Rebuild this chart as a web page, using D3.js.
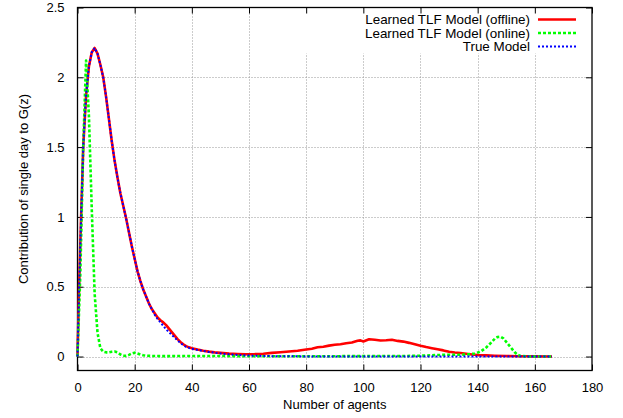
<!DOCTYPE html>
<html>
<head>
<meta charset="utf-8">
<script src="https://cdn.jsdelivr.net/npm/d3@7"></script>
<style>
  body { margin: 0; background: #fff; }
  svg { font-family: "Liberation Sans", Arial, sans-serif; }
</style>
</head>
<body>
<svg width="623" height="418"></svg>
<script>
// x = number of agents, y = contribution of single day to G(z)
var offline = [[0,0],[0.5,0.45],[1,0.82],[2,1.5],[3,1.87],[4,2.08],[5,2.18],[6,2.21],[7,2.17],[8,2.09],[9,2.0],
  [10,1.86],[11,1.7],[12,1.54],[13,1.4],[14,1.28],[15,1.17],[16,1.08],[17,0.99],[18,0.89],[19,0.79],[20,0.7],
  [21,0.61],[22,0.54],[23,0.48],[24,0.43],[25,0.38],[26,0.34],[27,0.31],[28,0.28],[29,0.26],[30,0.245],[31,0.225],
  [32,0.2],[33,0.175],[34,0.15],[35,0.125],[36,0.105],[37,0.088],[38,0.075],[39,0.066],[40,0.06],[42,0.05],[44,0.042],
  [46,0.035],[48,0.03],[50,0.026],[53,0.021],[56,0.018],[59,0.016],[62,0.017],[65,0.02],[68,0.026],[71,0.031],
  [74,0.036],[77,0.042],[80,0.05],[82,0.056],[84,0.066],[86,0.07],[88,0.078],[90,0.084],[92,0.088],[94,0.095],
  [96,0.1],[98,0.113],[99,0.116],[100,0.108],[102,0.124],[104,0.12],[106,0.115],[108,0.117],[110,0.12],[112,0.112],
  [114,0.107],[116,0.098],[118,0.088],[120,0.077],[122,0.068],[124,0.06],[126,0.052],[128,0.044],[130,0.034],
  [132,0.029],[134,0.025],[136,0.02],[138,0.015],[140,0.011],[143,0.008],[146,0.006],[150,0.004],[155,0.002],
  [160,0.001],[166,0]];

var online = [[0,0],[1,0.6],[2,1.5],[3,2.12],[4,1.72],[5,1.05],[6,0.45],[7,0.17],[8,0.06],[9,0.035],[10,0.03],
  [11,0.03],[12,0.034],[13,0.036],[14,0.03],[15,0.015],[16,0.006],[17,0.005],[18,0.012],[19,0.022],[20,0.028],
  [21,0.022],[22,0.014],[23,0.009],[24,0.006],[26,0.004],[30,0.003],[40,0.004],[50,0.004],[60,0.002],[80,0.002],
  [100,0.003],[115,0.004],[120,0.006],[125,0.01],[128,0.012],[131,0.013],[134,0.013],[137,0.016],[139,0.022],
  [141,0.035],[143,0.065],[145,0.105],[146,0.128],[147,0.14],[148,0.142],[149,0.13],[150,0.105],[151,0.08],
  [152,0.055],[153,0.03],[154,0.012],[155,0.004],[157,0.001],[160,0],[166,0]];

var trueModel = [[0,0],[0.5,0.45],[1,0.82],[2,1.5],[3,1.87],[4,2.08],[5,2.18],[6,2.21],[7,2.17],[8,2.09],[9,2.0],
  [10,1.86],[11,1.7],[12,1.54],[13,1.4],[14,1.28],[15,1.17],[16,1.08],[17,0.99],[18,0.89],[19,0.79],[20,0.7],
  [21,0.61],[22,0.54],[23,0.48],[24,0.43],[25,0.38],[26,0.34],[27,0.3],[28,0.27],[29,0.245],[30,0.22],[31,0.195],
  [32,0.175],[33,0.155],[34,0.135],[35,0.115],[36,0.097],[37,0.082],[38,0.07],[39,0.062],[40,0.056],[42,0.047],
  [44,0.04],[46,0.033],[48,0.027],[50,0.022],[53,0.016],[56,0.011],[60,0.007],[65,0.004],[70,0.002],[80,0.001],
  [90,0],[166,0]];

var xTicks = [0, 20, 40, 60, 80, 100, 120, 140, 160, 180];
var yTicks = [0, 0.5, 1, 1.5, 2, 2.5];
var seriesNames = ["Learned TLF Model (offline)", "Learned TLF Model (online)", "True Model"];
var seriesColors = ["#ff0000", "#00ff00", "#0000ff"];

var svg = d3.select("svg");
var pLeft = 77.5, pRight = 592, pTop = 7.5, pBottom = 370.5;

var x = d3.scaleLinear().domain([0, 180]).range([pLeft, pRight]);
var y = d3.scaleLinear().domain([-0.1, 2.5]).range([pBottom, pTop]);

// grid
var grid = svg.append("g")
    .attr("stroke", "#999")
    .attr("stroke-width", 1)
    .attr("stroke-dasharray", "1,2");
grid.selectAll(".gx").data(xTicks.slice(1, -1)).enter().append("line")
    .attr("x1", function(d) { return Math.round(x(d)) + 0.5; })
    .attr("x2", function(d) { return Math.round(x(d)) + 0.5; })
    .attr("y1", pTop).attr("y2", pBottom);
grid.selectAll(".gy").data(yTicks.slice(0, -1)).enter().append("line")
    .attr("y1", function(d) { return Math.round(y(d)) + 0.5; })
    .attr("y2", function(d) { return Math.round(y(d)) + 0.5; })
    .attr("x1", pLeft).attr("x2", pRight);

// key background hides the grid behind it
svg.append("rect")
    .attr("x", 300).attr("y", pTop + 1)
    .attr("width", pRight - 301).attr("height", 45)
    .attr("fill", "#fff");

// axes (inward ticks, mirrored)
var tick = 6;
svg.append("g").attr("transform", "translate(0," + pBottom + ")")
    .call(d3.axisBottom(x).tickValues(xTicks).tickSize(-tick).tickPadding(12).tickFormat(d3.format("d")));
svg.append("g").attr("transform", "translate(0," + pTop + ")")
    .call(d3.axisTop(x).tickValues(xTicks).tickSize(-tick).tickFormat(""));
svg.append("g").attr("transform", "translate(" + pLeft + ",0)")
    .call(d3.axisLeft(y).tickValues(yTicks).tickSize(-tick).tickPadding(13).tickFormat(function(d) { return d; }));
svg.append("g").attr("transform", "translate(" + pRight + ",0)")
    .call(d3.axisRight(y).tickValues(yTicks).tickSize(-tick).tickFormat(""));

svg.selectAll(".domain").remove();
svg.selectAll(".tick line").attr("stroke", "#000");
svg.selectAll(".tick text").attr("font-size", 13).attr("fill", "#000")
    .attr("font-family", "Liberation Sans, Arial, sans-serif");

// border
svg.append("rect")
    .attr("x", pLeft).attr("y", pTop)
    .attr("width", pRight - pLeft).attr("height", pBottom - pTop)
    .attr("fill", "none").attr("stroke", "#000").attr("stroke-width", 1.3);

// lines
var line = d3.line()
    .x(function(d) { return x(d[0]); })
    .y(function(d) { return y(d[1]); });

var styles = [
  { data: offline, width: 2.6, dash: null },
  { data: online, width: 2.6, dash: "3,2" },
  { data: trueModel, width: 2, dash: "2,2" }
];

styles.forEach(function(s, i) {
  svg.append("path")
      .datum(s.data)
      .attr("fill", "none")
      .attr("stroke", seriesColors[i])
      .attr("stroke-width", s.width)
      .attr("stroke-dasharray", s.dash)
      .attr("stroke-linejoin", "round")
      .attr("d", line);
});

// key
var keyRows = [19.5, 33, 46.5];
seriesNames.forEach(function(name, i) {
  svg.append("text")
      .attr("x", 530).attr("y", keyRows[i])
      .attr("dy", "0.36em")
      .attr("text-anchor", "end")
      .attr("font-size", 13.4)
      .attr("fill", "#000")
      .text(name);
  svg.append("line")
      .attr("x1", 538).attr("x2", 576)
      .attr("y1", keyRows[i]).attr("y2", keyRows[i])
      .attr("stroke", seriesColors[i])
      .attr("stroke-width", styles[i].width)
      .attr("stroke-dasharray", styles[i].dash);
});

// axis labels
svg.append("text")
    .attr("x", (pLeft + pRight) / 2).attr("y", 409)
    .attr("text-anchor", "middle")
    .attr("font-size", 13)
    .text("Number of agents");

svg.append("text")
    .attr("transform", "translate(28," + (pTop + pBottom) / 2 + ") rotate(-90)")
    .attr("text-anchor", "middle")
    .attr("font-size", 13)
    .text("Contribution of single day to G(z)");
</script>
</body>
</html>
